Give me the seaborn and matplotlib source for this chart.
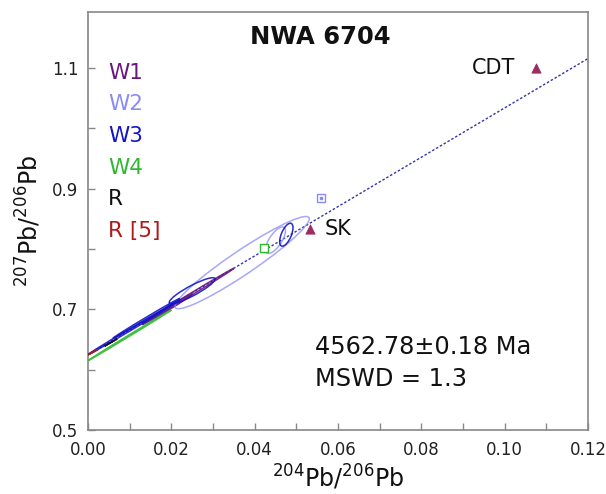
import numpy as np
import pandas as pd
import matplotlib
matplotlib.use("Agg")
import matplotlib.pyplot as plt
import seaborn as sns
from matplotlib.patches import Circle
from matplotlib.transforms import Affine2D
from matplotlib.ticker import MultipleLocator, FixedLocator, FormatStrFormatter

sns.set_theme(style="white")
plt.rcParams['font.family'] = ['DejaVu Sans']

# ---- data ----
groups = ["W1", "W2", "W3", "W4", "R", "R [5]"]
group_colors = ["#6a1580", "#8a8cf5", "#1414c8", "#2eb82e", "#111111", "#b01a1a"]

# error ellipses: group, x, y, sx, sy, rho
ell_group = ["W1", "W1", "W2", "W2", "W3", "W3", "W3", "W3", "W4", "R", "R [5]"]
ell_x = [0.0240, 0.0190, 0.0370, 0.0450, 0.0250, 0.0476, 0.0110, 0.0140, 0.0100, 0.0055, 0.0012]
ell_y = [0.7220, 0.7000, 0.7775, 0.8146, 0.7310, 0.8238, 0.6700, 0.6850, 0.6570, 0.6450, 0.6290]
ell_sx = [0.0110, 0.0060, 0.0161, 0.0024, 0.0055, 0.0016, 0.0110, 0.0080, 0.0100, 0.0015, 0.0012]
ell_sy = [0.0460, 0.0250, 0.0765, 0.0220, 0.0215, 0.0190, 0.0450, 0.0330, 0.0420, 0.0060, 0.0045]
ell_rho = [0.9990, 0.9950, 0.9500, 0.7000, 0.9000, 0.6000, 0.9990, 0.9980, 0.9995, 0.9990, 0.9990]

# isochron fit
iso_x = [0.0, 0.12]
iso_intercept = 0.625
iso_slope = 4.09

# reference points
ref_names = ["CDT", "SK"]
ref_x = [0.1075, 0.0533]
ref_y = [1.100, 0.833]

# open squares
sq_x = [0.0560, 0.0423]
sq_y = [0.885, 0.802]
sq_colors = ["#8a8cf5", "#2eb82e"]

age_text = "4562.78±0.18 Ma"
mswd_text = "MSWD = 1.3"

y_major = [0.5, 0.7, 0.9, 1.1]
y_minor = [0.6, 0.8, 1.0]

# ---- figure ----
fig = plt.figure(figsize=(6.06, 4.94), dpi=100)
ax = fig.add_axes([88/606, 64/494, 500/606, 418/494])

color_map = dict(zip(groups, group_colors))

# isochron line
iso_df = pd.DataFrame({"x": iso_x, "y": [iso_intercept + iso_slope * v for v in iso_x]})
sns.lineplot(data=iso_df, x="x", y="y", ax=ax, color="#3535a5", lw=1.0,
             linestyle=(0, (1.8, 1.4)), zorder=2)

# ellipses
for g, cx, cy, sx, sy, r in zip(ell_group, ell_x, ell_y, ell_sx, ell_sy, ell_rho):
    L = np.array([[sx, 0.0, cx], [r * sy, sy * np.sqrt(1 - r * r), cy], [0, 0, 1]])
    circ = Circle((0, 0), 1.0, fill=False, edgecolor=color_map[g], lw=1.1,
                  alpha=0.9 if g != "W2" else 0.75, zorder=3)
    circ.set_transform(Affine2D(L) + ax.transData)
    ax.add_patch(circ)

# reference triangles
ref_df = pd.DataFrame({"x": ref_x, "y": ref_y, "name": ref_names})
sns.scatterplot(data=ref_df, x="x", y="y", ax=ax, marker="^", s=45,
                color="#9c2c62", edgecolor="#9c2c62", zorder=4, legend=False)
ax.text(ref_x[0] - 0.005, ref_y[0], ref_names[0], ha="right", va="center", fontsize=15, color="#111111")
ax.text(ref_x[1] + 0.0035, ref_y[1], ref_names[1], ha="left", va="center", fontsize=15, color="#111111")

# open squares
for x, y, c in zip(sq_x, sq_y, sq_colors):
    ax.scatter([x], [y], marker="s", s=40, facecolor="white", edgecolor=c, lw=1.0, zorder=4)
ax.scatter([sq_x[0]], [sq_y[0]], marker="s", s=3, color=sq_colors[0], zorder=5)

# legend as coloured text
for i, (g, c) in enumerate(zip(groups, group_colors)):
    ax.text(0.04, 0.855 - i * 0.0757, g, transform=ax.transAxes, color=c,
            fontsize=15.5, ha="left", va="center")

ax.text(0.464, 0.94, "NWA 6704", transform=ax.transAxes, ha="center", va="center",
        fontsize=17.5, fontweight="bold", color="#111111")
ax.text(0.454, 0.198, age_text, transform=ax.transAxes, ha="left", va="center",
        fontsize=17.3, color="#111111")
ax.text(0.454, 0.123, mswd_text, transform=ax.transAxes, ha="left", va="center",
        fontsize=17.3, color="#111111")

# axes styling
ax.set_xlim(0, 0.12)
ax.set_ylim(0.5, 1.193)
ax.xaxis.set_major_locator(MultipleLocator(0.02))
ax.xaxis.set_minor_locator(MultipleLocator(0.01))
ax.yaxis.set_major_locator(FixedLocator(y_major))
ax.yaxis.set_minor_locator(FixedLocator(y_minor))
ax.xaxis.set_major_formatter(FormatStrFormatter("%.2f"))
ax.yaxis.set_major_formatter(FormatStrFormatter("%.1f"))
ax.tick_params(which="both", direction="in", length=5, width=1, color="#888888",
               labelsize=12, labelcolor="#222222", bottom=True, left=True)
ax.tick_params(axis="x", which="major", pad=8)
ax.tick_params(axis="y", which="major", pad=7)
for s in ax.spines.values():
    s.set_color("#888888")
    s.set_linewidth(1.2)

ax.set_xlabel(r"$^{204}$Pb/$^{206}$Pb", fontsize=17, color="#111111", labelpad=3)
ax.set_ylabel(r"$^{207}$Pb/$^{206}$Pb", fontsize=17, color="#111111", labelpad=6)
ax.grid(False)

fig.savefig("out.png", dpi=100)
